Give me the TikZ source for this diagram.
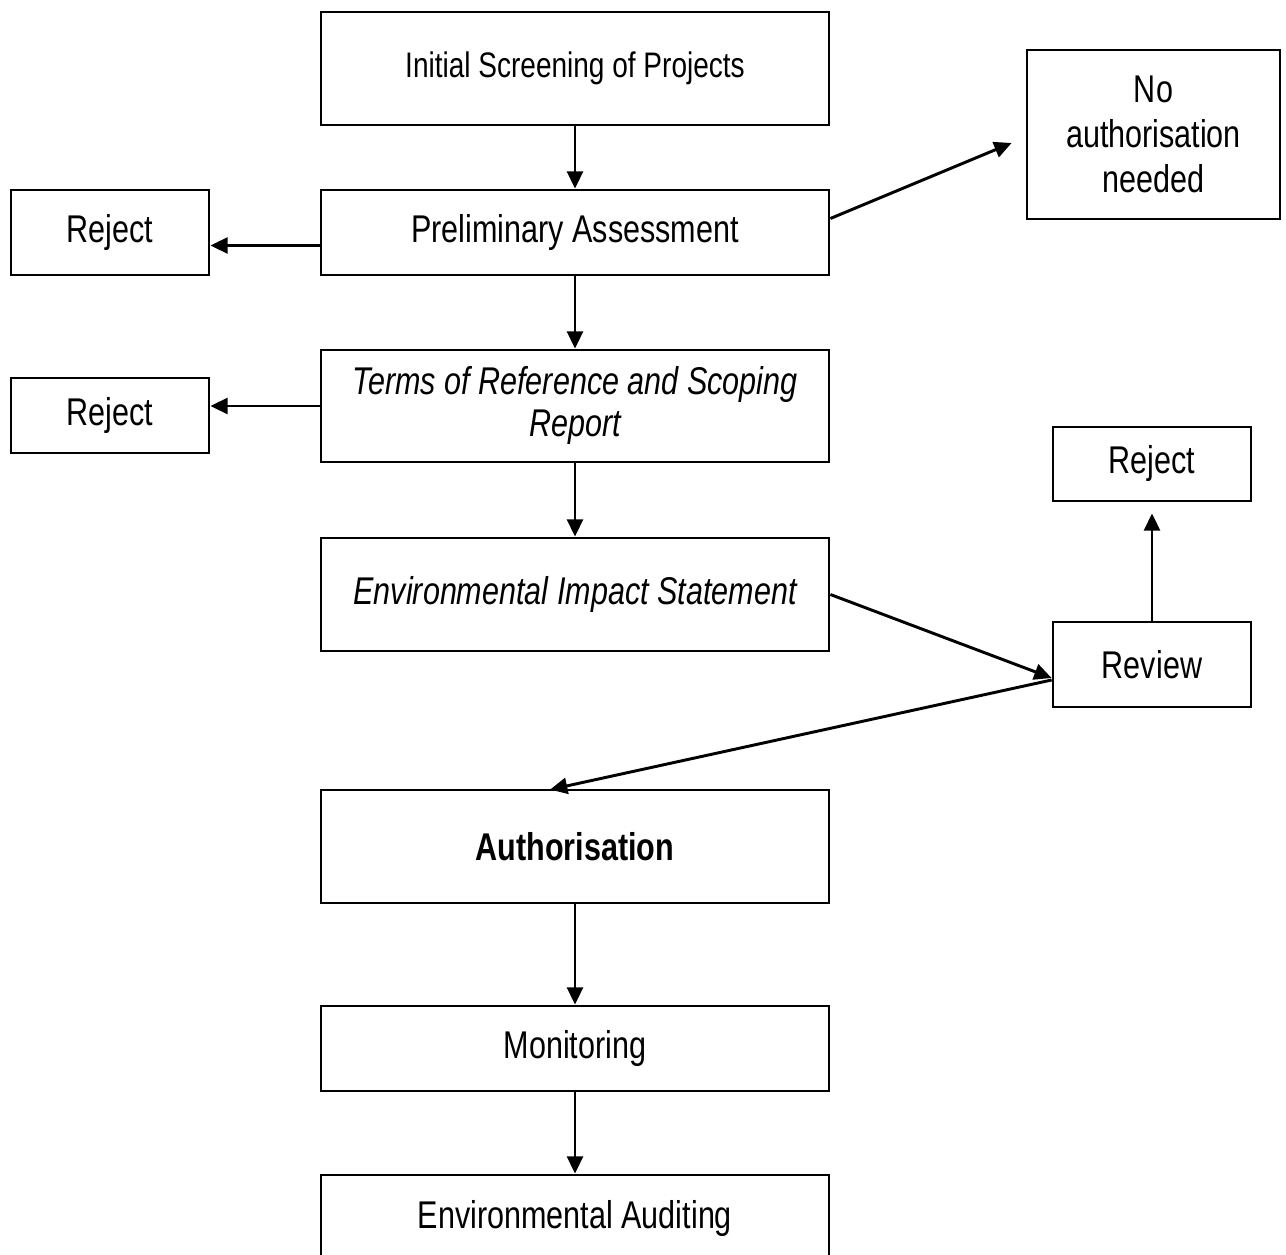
\documentclass[tikz,border=0pt]{standalone}
\usepackage{fontspec}
\setmainfont[FakeStretch=0.79]{Liberation Sans}
\usetikzlibrary{arrows.meta,calc}
\tikzset{
  box/.style={draw, line width=2.1pt, inner sep=0pt, align=center,
    font=\fontsize{29}{34}\selectfont},
  arr/.style={line width=2.2pt, -{Triangle[length=13pt,width=12pt]}}
}
\newcommand{\boxat}[6]{% name, x1, y1, x2, y2, options
  \pgfmathsetmacro{\bw}{(#4-#2)*0.75}%
  \pgfmathsetmacro{\bh}{(#5-#3)*0.75}%
  \node[box, minimum width=\bw pt, minimum height=\bh pt, #6] (#1) at ({(#2+#4)/2},{(#3+#5)/2})}
\begin{document}
\begin{tikzpicture}[x=0.75pt,y=-0.75pt]
\useasboundingbox (0,0) rectangle (1286,1255);
\clip (0,0) rectangle (1286,1255);
\boxat{init}{321}{12}{829}{125}{font=\fontsize{26.6}{31}\selectfont} {Initial Screening of Projects};
\boxat{prelim}{321}{190}{829}{275}{} {Preliminary Assessment};
\boxat{rejA}{11}{190}{209}{275}{} {Reject};
\boxat{noauth}{1027}{50}{1280}{219}{font=\fontsize{29}{33.5}\selectfont} {No\\authorisation\\needed};
\boxat{tor}{321}{350}{829}{462}{font=\fontsize{29}{31.5}\selectfont\itshape} {Terms of Reference and Scoping\\Report};
\boxat{rejB}{11}{378}{209}{453}{} {Reject};
\boxat{eis}{321}{538}{829}{651}{font=\fontsize{29}{34}\selectfont\itshape} {Environmental Impact Statement};
\boxat{rejC}{1053}{427}{1251}{501}{} {Reject};
\boxat{review}{1053}{622}{1251}{707}{} {Review};
\boxat{auth}{321}{790}{829}{903}{font=\fontsize{29}{34}\selectfont\bfseries} {Authorisation};
\boxat{monit}{321}{1006}{829}{1091}{} {Monitoring};
\boxat{audit}{321}{1175}{829}{1262}{} {Environmental Auditing};

\draw[arr] (init.south) -- (prelim.north);
\draw[arr] ($(prelim.west)+(0,13)$) -- ($(rejA.east)+(0,13)$);
\draw[arr] ($(prelim.east)+(0,-14)$) -- ($(noauth.west)+(-14,8.5)$);
\draw[arr] (prelim.south) -- (tor.north);
\draw[arr] (tor.west) -- (rejB.east |- tor.west);
\draw[arr] (tor.south) -- (eis.north);
\draw[arr] (eis.east) -- ($(review.west)+(0,13.5)$);
\draw[arr] ($(review.west)+(0,15.5)$) -- ($(auth.north)+(-25,1)$);
\draw[arr] (review.north) -- ($(rejC.south)+(0,11)$);
\draw[arr] (auth.south) -- (monit.north);
\draw[arr] (monit.south) -- (audit.north);
\end{tikzpicture}
\end{document}
